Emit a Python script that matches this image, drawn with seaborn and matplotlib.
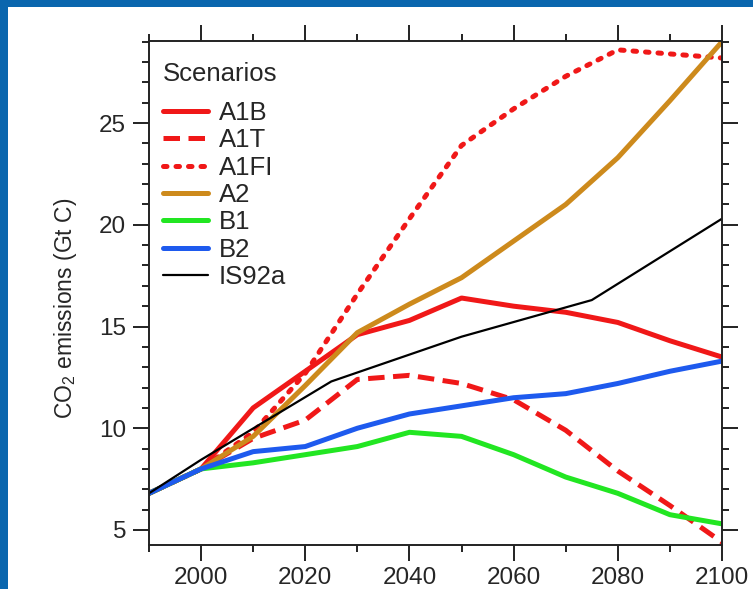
import matplotlib
matplotlib.use("Agg")
import matplotlib.pyplot as plt
from matplotlib.patches import Rectangle
from matplotlib.ticker import MultipleLocator
import seaborn as sns

# ---- data ----
years = [1990, 2000, 2010, 2020, 2030, 2040, 2050, 2060, 2070, 2080, 2090, 2100]
a1b = [6.8, 8.0, 11.0, 12.8, 14.6, 15.3, 16.4, 16.0, 15.7, 15.2, 14.3, 13.5]
a1t = [6.8, 8.0, 9.5, 10.4, 12.4, 12.6, 12.2, 11.4, 9.9, 7.9, 6.2, 4.4]
a1fi = [6.8, 8.0, 9.8, 12.7, 16.6, 20.3, 23.9, 25.7, 27.3, 28.6, 28.4, 28.2]
a2 = [6.8, 8.0, 9.6, 12.1, 14.7, 16.1, 17.4, 19.2, 21.0, 23.3, 26.1, 29.0]
b1 = [6.8, 8.0, 8.3, 8.7, 9.1, 9.8, 9.6, 8.7, 7.6, 6.8, 5.75, 5.3]
b2 = [6.8, 8.0, 8.85, 9.1, 10.0, 10.7, 11.1, 11.5, 11.7, 12.2, 12.8, 13.3]
is92a_years = [1990, 2000, 2025, 2050, 2075, 2100]
is92a = [6.8, 8.45, 12.3, 14.5, 16.3, 20.3]

scenario_names = ["A1B", "A1T", "A1FI", "A2", "B1", "B2", "IS92a"]
x_ticks = [2000, 2020, 2040, 2060, 2080, 2100]
y_ticks = [5, 10, 15, 20, 25]

# ---- style ----
sns.set_style("ticks")
plt.rcParams["font.family"] = ["Liberation Sans", "DejaVu Sans"]
plt.rcParams["mathtext.fontset"] = "custom"
plt.rcParams["mathtext.rm"] = "Liberation Sans"
plt.rcParams["mathtext.it"] = "Liberation Sans:italic"

RED = "#F01818"
ORANGE = "#CD8A1C"
GREEN = "#22E622"
BLUE = "#1E5AEE"
LW = 3.6

fig = plt.figure(figsize=(7.53, 5.89), dpi=100)
fig.patch.set_facecolor("#0A66AE")
fig.add_artist(Rectangle((8 / 753, 0), 1, 1 - 7 / 589, transform=fig.transFigure,
                         facecolor="white", edgecolor="none", zorder=-5))

ax = fig.add_axes([149 / 753, 1 - 545 / 589, 573 / 753, (545 - 40.7) / 589])
ax.set_facecolor("white")

series = [
    (years, a1b, RED, LW, None),
    (years, a1t, RED, LW, "dash"),
    (years, a1fi, RED, LW, "dot"),
    (years, a2, ORANGE, LW, None),
    (years, b1, GREEN, LW, None),
    (years, b2, BLUE, LW, None),
    (is92a_years, is92a, "black", 1.6, None),
]

for name, (xs, ys, col, lw, sty) in zip(scenario_names, series):
    sns.lineplot(x=xs, y=ys, ax=ax, color=col, linewidth=lw, label=name,
                 legend=False, solid_joinstyle="round")
    line = ax.lines[-1]
    if sty == "dash":
        line.set_dashes((3.3, 1.7))
        line.set_dash_capstyle("butt")
    elif sty == "dot":
        line.set_dashes((0.7, 1.8))
        line.set_dash_capstyle("round")

ax.set_xlim(1990, 2100)
ax.set_ylim(4.26, 29.05)
ax.set_xticks(x_ticks)
ax.set_xticklabels([str(t) for t in x_ticks])
ax.set_yticks(y_ticks)
ax.set_yticklabels([str(t) for t in y_ticks])
ax.xaxis.set_minor_locator(MultipleLocator(10))
ax.yaxis.set_minor_locator(MultipleLocator(1))

for s in ax.spines.values():
    s.set_visible(True)
    s.set_linewidth(1.4)
    s.set_color("#222222")

ax.tick_params(which="both", direction="out", top=True, right=True,
               labeltop=False, labelright=False, color="#222222", width=1.4)
ax.tick_params(which="major", length=11.5, labelsize=17.5, pad=4)
ax.tick_params(which="minor", length=5)
ax.tick_params(axis="y", which="major", pad=5)

ax.set_xlabel("")
ax.set_ylabel("CO$_2$ emissions (Gt C)", fontsize=16.5)
ax.yaxis.set_label_coords(-0.122, 0.47)

ax.text(14 / 573, (545 - 81) / 504.3, "Scenarios", transform=ax.transAxes,
        fontsize=18.5, ha="left", va="baseline")

leg = ax.legend(loc="upper left",
                bbox_to_anchor=(14 / 573, (545 - 101) / 504.3),
                frameon=False, fontsize=18.5,
                handlelength=1.75, handletextpad=0.43, labelspacing=0.13,
                borderpad=0, borderaxespad=0)

fig.savefig("out.png", dpi=100)
